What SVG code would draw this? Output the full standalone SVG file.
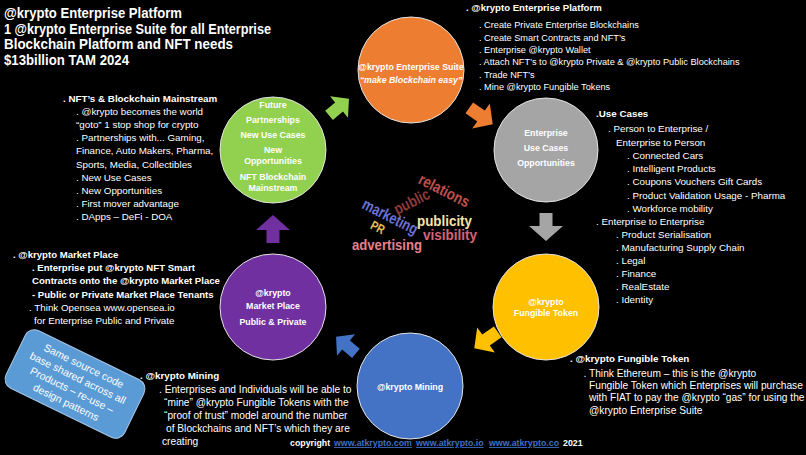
<svg xmlns="http://www.w3.org/2000/svg" width="806" height="455" viewBox="0 0 806 455">
<style>
text{font-family:"Liberation Sans",Arial,sans-serif;fill:#fff}
.b{font-weight:bold}
.t92{font-size:9.2px}
.t98{font-size:9.8px}
.t10{font-size:10.2px}
.bh{font-size:9.6px;font-weight:bold}
.h{font-size:14px;font-weight:bold}
.c{font-size:8.8px;font-weight:bold;text-anchor:middle}
.circ{stroke:#e3e3e3;stroke-width:1}
.w{font-weight:bold;font-size:14px}
.lnk{fill:#3f70c2;text-decoration:underline}
.box{font-size:10.5px;text-anchor:middle}
</style>
<defs>
<path id="arrD" d="M-13,-6 H0 V-14 L13,0 L0,14 V6 H-13 Z"/>
<path id="arrV" d="M-14,-6.5 H-1 V-17 L14,0 L-1,17 V6.5 H-14 Z"/>
</defs>
<rect width="806" height="455" fill="#000"/>

<g id="title">
<text class="h" x="4" y="18" textLength="178" lengthAdjust="spacingAndGlyphs">@krypto Enterprise Platform</text>
<text class="h" x="4" y="33.5" textLength="267" lengthAdjust="spacingAndGlyphs">1 @krypto Enterprise Suite for all Enterprise</text>
<text class="h" x="4" y="49" textLength="229" lengthAdjust="spacingAndGlyphs">Blockchain Platform and NFT needs</text>
<text class="h" x="4" y="64.5" textLength="125" lengthAdjust="spacingAndGlyphs">$13billion TAM 2024</text>
</g>

<g id="connectors">
<use href="#arrD" transform="translate(339,107) rotate(-40)" fill="#92d050"/>
<use href="#arrD" transform="translate(481,116) rotate(35) scale(1.1)" fill="#ed7d31"/>
<use href="#arrV" transform="translate(546,227) rotate(90)" fill="#a5a5a5"/>
<use href="#arrD" transform="translate(486,340) rotate(145) scale(1.1)" fill="#ffc000"/>
<use href="#arrD" transform="translate(346,345) rotate(-140)" fill="#4472c4"/>
<use href="#arrV" transform="translate(273,229) rotate(-90)" fill="#7030a0"/>
</g>

<g id="node-suite">
<circle class="circ" cx="411" cy="70" r="53" fill="#ed7d31"/>
<text class="c" x="411" y="70">@krypto Enterprise Suite</text>
<text class="c" x="411" y="83" font-style="italic">“make Blockchain easy”</text>
</g>

<g id="node-usecases">
<circle class="circ" cx="546" cy="150" r="52" fill="#a5a5a5"/>
<text class="c" x="546" y="136">Enterprise</text>
<text class="c" x="546" y="151">Use Cases</text>
<text class="c" x="546" y="166">Opportunities</text>
</g>

<g id="node-token">
<circle class="circ" cx="546" cy="307" r="53" fill="#ffc000"/>
<text class="c" x="546" y="305">@krypto</text>
<text class="c" x="546" y="316">Fungible Token</text>
</g>

<g id="node-mining">
<circle class="circ" cx="410" cy="386" r="53" fill="#4472c4"/>
<text class="c" x="410" y="390">@krypto Mining</text>
</g>

<g id="node-market">
<circle class="circ" cx="273" cy="307" r="53" fill="#7030a0"/>
<text class="c" x="273" y="296">@krypto</text>
<text class="c" x="273" y="309">Market Place</text>
<text class="c" x="273" y="325">Public &amp; Private</text>
</g>

<g id="node-future">
<circle class="circ" cx="273" cy="150" r="53" fill="#92d050"/>
<text class="c" x="273" y="108">Future</text>
<text class="c" x="273" y="123">Partnerships</text>
<text class="c" x="273" y="138">New Use Cases</text>
<text class="c" x="273" y="153">New</text>
<text class="c" x="273" y="164">Opportunities</text>
<text class="c" x="273" y="180">NFT Blockchain</text>
<text class="c" x="273" y="191">Mainstream</text>
</g>

<g id="text-platform">
<text class="bh" x="466" y="11">. @krypto Enterprise Platform</text>
<text class="t92" x="479" y="28">. Create Private Enterprise Blockchains</text>
<text class="t92" x="479" y="41">. Create Smart Contracts and NFT’s</text>
<text class="t92" x="479" y="53">. Enterprise @krypto Wallet</text>
<text class="t92" x="479" y="65">. Attach NFT’s to @krypto Private &amp; @krypto Public Blockchains</text>
<text class="t92" x="479" y="78">. Trade NFT’s</text>
<text class="t92" x="479" y="90">. Mine @krypto Fungible Tokens</text>
</g>

<g id="text-usecases">
<text class="t98 b" x="596" y="117">.Use Cases</text>
<text class="t98" x="608" y="132">. Person to Enterprise /</text>
<text class="t98" x="616" y="146">Enterprise to Person</text>
<text class="t98" x="627" y="159">. Connected Cars</text>
<text class="t98" x="627" y="172">. Intelligent Products</text>
<text class="t98" x="627" y="185">. Coupons Vouchers Gift Cards</text>
<text class="t98" x="627" y="199">. Product Validation Usage - Pharma</text>
<text class="t98" x="627" y="212">. Workforce mobility</text>
<text class="t98" x="596" y="225">. Enterprise to Enterprise</text>
<text class="t98" x="616" y="238">. Product Serialisation</text>
<text class="t98" x="616" y="251">. Manufacturing Supply Chain</text>
<text class="t98" x="616" y="264">. Legal</text>
<text class="t98" x="616" y="277">. Finance</text>
<text class="t98" x="616" y="290">. RealEstate</text>
<text class="t98" x="616" y="303">. Identity</text>
</g>

<g id="text-token">
<text class="t98 b" x="570" y="362">. @krypto Fungible Token</text>
<text class="t10" x="583.5" y="377">. Think Ethereum – this is the @krypto</text>
<text class="t10" x="589" y="389">Fungible Token which Enterprises will purchase</text>
<text class="t10" x="589" y="401">with FIAT to pay the @krypto “gas” for using the</text>
<text class="t10" x="589" y="414">@krypto Enterprise Suite</text>
</g>

<g id="text-mining">
<text class="t98 b" x="140" y="379">. @krypto Mining</text>
<text class="t10" x="159" y="393">. Enterprises and Individuals will be able to</text>
<text class="t10" x="164" y="406">“mine” @krypto Fungible Tokens with the</text>
<text class="t10" x="164" y="419">“proof of trust” model around the number</text>
<text class="t10" x="166" y="432">of Blockchains and NFT’s which they are</text>
<text class="t10" x="162" y="445">creating</text>
</g>

<g id="text-market">
<text class="bh" x="13" y="258">. @krypto Market Place</text>
<text class="bh" x="32" y="271">.  Enterprise put @krypto NFT Smart</text>
<text class="bh" x="32" y="284">Contracts onto the @krypto Market Place</text>
<text class="bh" x="32" y="298">- Public or Private Market Place Tenants</text>
<text class="t98" x="29" y="311">. Think  Opensea www.opensea.io</text>
<text class="t98" x="34" y="324">for Enterprise Public and Private</text>
</g>

<g id="text-mainstream">
<text class="t98 b" x="63" y="102">. NFT’s &amp; Blockchain Mainstream</text>
<text class="t98" x="76" y="115">. @krypto becomes the world</text>
<text class="t98" x="76" y="128">“goto” 1 stop shop for crypto</text>
<text class="t98" x="76" y="141">. Partnerships with... Gaming,</text>
<text class="t98" x="76" y="154">Finance, Auto Makers, Pharma,</text>
<text class="t98" x="76" y="168">Sports, Media, Collectibles</text>
<text class="t98" x="76" y="181">. New Use Cases</text>
<text class="t98" x="76" y="194">. New Opportunities</text>
<text class="t98" x="76" y="207">. First mover advantage</text>
<text class="t98" x="76" y="220">. DApps – DeFi - DOA</text>
</g>

<g id="wordcloud">
<text class="w" transform="translate(444,191) rotate(27)" x="0" y="5" text-anchor="middle" textLength="55" lengthAdjust="spacingAndGlyphs" style="fill:#c0504d;font-size:16px">relations</text>
<text class="w" transform="translate(412,202) rotate(-27)" x="0" y="5" text-anchor="middle" textLength="38" lengthAdjust="spacingAndGlyphs" style="fill:#8e3a3a;font-size:16px">public</text>
<text class="w" transform="translate(390,217) rotate(27)" x="0" y="5" text-anchor="middle" textLength="60" lengthAdjust="spacingAndGlyphs" style="fill:#6b72d8;font-size:16px">marketing</text>
<text class="w" transform="translate(378,227) rotate(27)" x="0" y="5" text-anchor="middle" textLength="14" lengthAdjust="spacingAndGlyphs" style="fill:#e9bd55;font-size:13px">PR</text>
<text class="w" x="417" y="225.5" textLength="55" lengthAdjust="spacingAndGlyphs" style="fill:#f3e5a9">publicity</text>
<text class="w" x="423" y="240" textLength="54" lengthAdjust="spacingAndGlyphs" style="fill:#d5647a">visibility</text>
<text class="w" x="352" y="250" textLength="70" lengthAdjust="spacingAndGlyphs" style="fill:#e6818e;font-size:15px">advertising</text>
</g>

<g id="note-box" transform="translate(75,384) rotate(26)">
<rect x="-66" y="-32" width="132" height="64" rx="10" fill="#5b9bd5" stroke="#a6c6e8" stroke-width="1"/>
<text class="box" x="0" y="-16.5">Same source code</text>
<text class="box" x="0" y="-3">base shared across all</text>
<text class="box" x="0" y="10.5">Products – re-use –</text>
<text class="box" x="0" y="24">design patterns</text>
</g>

<g id="copyright">
<text class="b" style="font-size:8.8px" x="290" y="446">copyright</text>
<text class="b lnk" style="font-size:8.8px" x="334" y="446">www.atkrypto.com</text>
<text class="b lnk" style="font-size:8.8px" x="416" y="446">www.atkrypto.io</text>
<text class="b lnk" style="font-size:8.8px" x="489" y="446">www.atkrypto.co</text>
<text class="b" style="font-size:8.8px" x="563" y="446">2021</text>
</g>
</svg>
